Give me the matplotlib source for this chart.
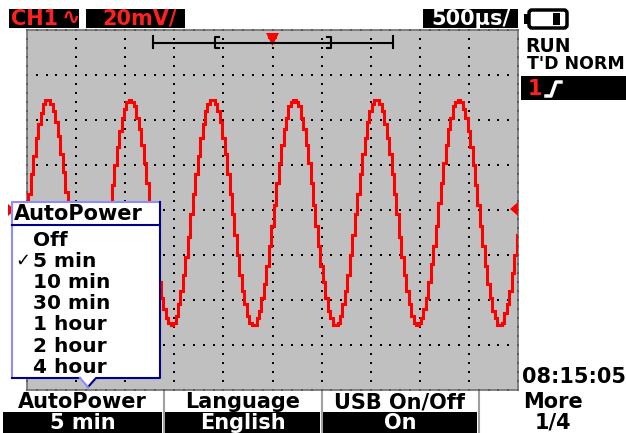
import matplotlib
matplotlib.use('Agg')
import matplotlib.pyplot as plt
import matplotlib.patches as mpatches
import numpy as np

# channel 1 samples, one every 25 us, in mV
sample_step_ms = 0.025
trace_mv = [-3, 7, 16, 24, 32, 38, 43, 47, 49, 49,
            47, 44, 39, 33, 25, 17, 8, -2, -11, -20,
            -28, -36, -42, -46, -50, -51, -51, -48, -45, -39,
            -33, -25, -16, -7, 2, 11, 20, 28, 35, 41,
            45, 48, 49, 48, 46, 41, 36, 29, 21, 12,
            3, -7, -16, -24, -32, -39, -44, -48, -50, -51,
            -50, -47, -42, -36, -29, -21, -12, -2, 7, 16,
            24, 32, 38, 44, 47, 49, 49, 47, 44, 39,
            32, 25, 16, 7, -2, -11, -20, -29, -36, -42,
            -47, -50, -51, -51, -48, -45, -39, -33, -25, -16,
            -7, 2, 12, 21, 29, 36, 41, 46, 48, 49,
            48, 46, 41, 36, 29, 21, 12, 2, -7, -16,
            -25, -32, -39, -45, -48, -51, -51, -50, -47, -42,
            -36, -29, -20, -11, -2, 7, 16, 25, 32, 39,
            44, 47, 49, 49, 47, 44, 38, 32, 25, 16,
            7, -2, -12, -21, -29, -36, -42, -47, -50, -51,
            -50, -48, -44, -39, -32, -24, -16, -7, 3, 12,
            21, 29, 36, 41, 46, 48, 49, 48, 45, 41,
            35, 28, 20, 11, 2, -7, -16, -25, -33, -39,
            -45, -48, -51, -51, -50, -46, -42, -36, -28, -20,
            -11]

ch_label = 'CH1'
volt_div = '20mV/'
time_div = '500µs/'
run_state = 'RUN'
trig_mode = "T'D NORM"
clock = '08:15:05'
menu_title = 'AutoPower'
menu_items = ['Off', '5 min', '10 min', '30 min', '1 hour', '2 hour', '4 hour']
menu_checked = 1
softkey_top = ['AutoPower', 'Language', 'USB On/Off', 'More']
softkey_bottom = ['5 min', 'English', 'On', '1/4']

W, H = 626, 433
fig = plt.figure(figsize=(W / 100, H / 100), dpi=100)
fig.patch.set_facecolor('white')

# scope screen: 10 x 500us, 8 x 20mV
x0, x1, y0, y1 = 27, 518, 30, 390
ax = fig.add_axes([x0 / W, 1 - y1 / H, (x1 - x0) / W, (y1 - y0) / H], zorder=1)
ax.set_facecolor('#c0c0c0')
ax.set_xlim(0, 5)
ax.set_ylim(-80, 80)
ax.set_xticks([])
ax.set_yticks([])
for s in ax.spines.values():
    s.set_color('#707070')
    s.set_linewidth(1.2)

# dotted graticule
gx, gy = [], []
for tx in np.arange(0, 5.01, 0.5):
    for vy in np.arange(-80, 80.1, 4):
        gx.append(tx); gy.append(vy)
for vy in np.arange(-80, 80.1, 20):
    for tx in np.arange(0, 5.01, 0.1):
        gx.append(tx); gy.append(vy)
ax.scatter(gx, gy, marker='s', s=2.2, color='black', linewidths=0, zorder=2, clip_on=False)

t = np.arange(len(trace_mv)) * sample_step_ms
ax.plot(t, trace_mv, drawstyle='steps-mid', color='#ff0000', lw=2.2, zorder=3,
        solid_joinstyle='miter')

# overlay in pixel coordinates
ui = fig.add_axes([0, 0, 1, 1], zorder=2)
ui.set_xlim(0, W)
ui.set_ylim(H, 0)
ui.axis('off')

bold = dict(fontfamily='DejaVu Sans', fontweight='bold')

# header
ui.add_patch(mpatches.Rectangle((9, 9), 70, 19, fc='black', ec='none'))
ui.text(11, 19, ch_label, color='#ff2020', fontsize=15, va='center', ha='left', **bold)
ui.text(71, 18, '∿', color='#ff2020', fontsize=16, va='center', ha='center', **bold)
ui.add_patch(mpatches.Rectangle((86, 9), 99, 19, fc='black', ec='none'))
ui.text(140, 19, volt_div, color='#ff2020', fontsize=15, va='center', ha='center', **bold)
ui.add_patch(mpatches.Rectangle((423, 9), 95, 19, fc='black', ec='none'))
ui.text(471, 19, time_div, color='white', fontsize=15, va='center', ha='center', **bold)

# battery
ui.add_patch(mpatches.Rectangle((524, 14), 5, 10, fc='black', ec='none'))
ui.add_patch(mpatches.FancyBboxPatch((529, 10), 38, 18, boxstyle='round,pad=0,rounding_size=3',
                                     fc='white', ec='black', lw=2.5))
ui.add_patch(mpatches.Rectangle((553, 13), 7, 12, fc='black', ec='none'))

ui.text(525, 46, run_state, color='black', fontsize=13.5, va='center', ha='left', **bold)
ui.text(527, 64, trig_mode, color='black', fontsize=12.5, va='center', ha='left', **bold)
ui.add_patch(mpatches.Rectangle((521, 76), 105, 24, fc='black', ec='none'))
ui.text(528, 89, '1', color='#ff2020', fontsize=15, va='center', ha='left', **bold)
ui.plot([546, 551, 556, 561], [96, 96, 82, 82], color='white', lw=2.5)

# trigger / memory position bar
ui.plot([153, 393], [43, 43], color='black', lw=1.5)
ui.plot([153, 153], [36, 48], color='black', lw=1.5)
ui.plot([393, 393], [36, 48], color='black', lw=1.5)
ui.plot([219, 215, 215, 219], [37, 37, 48, 48], color='black', lw=1.5)
ui.plot([327, 331, 331, 327], [37, 37, 48, 48], color='black', lw=1.5)
ui.add_patch(mpatches.Polygon([(266, 33), (279, 33), (272.5, 46)], fc='#ff0000', ec='none'))
ui.add_patch(mpatches.Rectangle((268, 36), 9, 3, fc='#ff0000', ec='none'))

# level markers
ui.add_patch(mpatches.Polygon([(518, 202), (518, 216), (510, 209)], fc='#ff0000', ec='none'))
ui.add_patch(mpatches.Polygon([(8, 204), (8, 216), (15, 210)], fc='#ff0000', ec='none'))

# popup menu
mx0, mx1, my0, my1 = 12, 160, 202, 378
ui.add_patch(mpatches.Polygon([(mx0, my0), (mx1, my0), (mx1, my1), (96, my1), (88, 387),
                               (80, my1), (mx0, my1)], fc='white', ec='none', zorder=3))
light, dark = '#8c8cff', '#00008c'
ui.plot([mx0, mx0, mx1], [my1, my0, my0], color=light, lw=1.5, zorder=4)
ui.plot([mx1, mx1, 96, 88], [my0, my1, my1, 387], color=dark, lw=1.5, zorder=4)
ui.plot([80, mx0], [my1, my1], color=dark, lw=1.5, zorder=4)
ui.plot([80, 88], [my1, 387], color=light, lw=1.5, zorder=4)
ui.plot([mx0, mx1], [225, 225], color=dark, lw=1.5, zorder=4)
ui.text(14, 214, menu_title, color='black', fontsize=15, va='center', ha='left', zorder=5, **bold)
for i, item in enumerate(menu_items):
    yy = 240 + 21.2 * i
    ui.text(33, yy, item, color='black', fontsize=14.5, va='center', ha='left', zorder=5, **bold)
    if i == menu_checked:
        ui.text(15, yy, '✓', color='black', fontsize=13, va='center', ha='left', zorder=5, **bold)

# clock
ui.text(626, 377, clock, color='black', fontsize=15, va='center', ha='right', **bold)

# softkeys
keys = [(3, 162), (165, 320), (323, 477), (480, 626)]
for i, (k0, k1) in enumerate(keys):
    cx = (k0 + k1) / 2
    if i < 3:
        ui.add_patch(mpatches.Rectangle((k0, 412), k1 - k0, 21, fc='black', ec='none'))
        bot_col = 'white'
    else:
        bot_col = 'black'
    ui.text(cx, 402, softkey_top[i], color='black', fontsize=15, va='center', ha='center', **bold)
    ui.text(cx, 423, softkey_bottom[i], color=bot_col, fontsize=15, va='center', ha='center', **bold)
for sx in [163.5, 321.5, 478.5]:
    ui.plot([sx, sx], [392, 433], color='#a0a0a0', lw=1.5)

fig.savefig('out.png', dpi=100, facecolor='white')
